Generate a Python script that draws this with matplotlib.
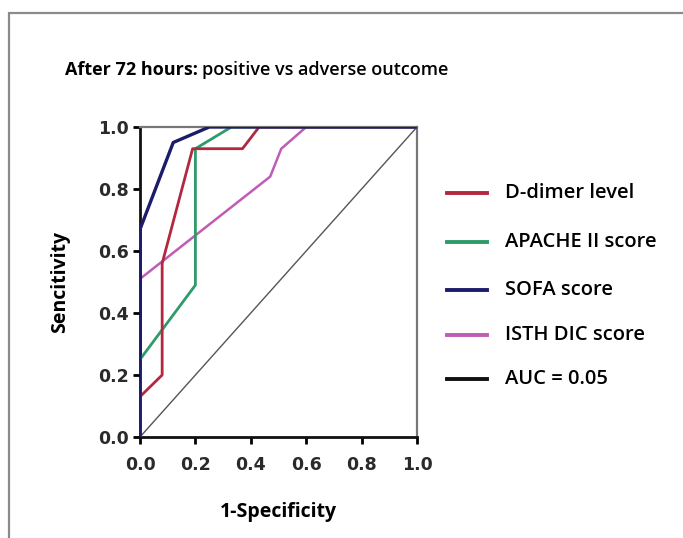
import matplotlib
matplotlib.use('Agg')
import matplotlib.pyplot as plt
from matplotlib.patches import Rectangle

# ROC curves (1-specificity, sensitivity)
ddimer_x = [0.0, 0.0, 0.08, 0.08, 0.19, 0.37, 0.43, 1.0]
ddimer_y = [0.0, 0.13, 0.20, 0.56, 0.93, 0.93, 1.0, 1.0]
apache_x = [0.0, 0.0, 0.20, 0.20, 0.33, 1.0]
apache_y = [0.0, 0.25, 0.49, 0.93, 1.0, 1.0]
sofa_x = [0.0, 0.0, 0.12, 0.25, 1.0]
sofa_y = [0.0, 0.67, 0.95, 1.0, 1.0]
isth_x = [0.0, 0.0, 0.47, 0.51, 0.60, 1.0]
isth_y = [0.0, 0.51, 0.84, 0.93, 1.0, 1.0]
ref_x = [0.0, 1.0]
ref_y = [0.0, 1.0]

labels = ['D-dimer level', 'APACHE II score', 'SOFA score', 'ISTH DIC score', 'AUC = 0.05']
colors = ['#b2283f', '#2f9a6a', '#1c1c6b', '#c05cb6', '#111111']
ticks = [0.0, 0.2, 0.4, 0.6, 0.8, 1.0]
tick_labels = ['0.0', '0.2', '0.4', '0.6', '0.8', '1.0']

txt_font = ['Open Sans', 'DejaVu Sans']
num_font = ['DejaVu Sans']

fig = plt.figure(figsize=(6.83, 5.38), dpi=100)
fig.patch.set_facecolor('white')

# outer grey frame (only top and left visible in the crop)
fig.patches.append(Rectangle((9 / 683, -0.2), 1.2, 0.2 + 1 - 13 / 538,
                             transform=fig.transFigure, fill=False,
                             edgecolor='#8a8a8a', linewidth=1.6))

ax = fig.add_axes([140 / 683, 1 - 437 / 538, 277 / 683, 310 / 538])

ax.plot(ref_x, ref_y, color='#555555', linewidth=1.0, zorder=1)
ax.plot(isth_x, isth_y, color=colors[3], linewidth=1.8, zorder=2)
ax.plot(apache_x, apache_y, color=colors[1], linewidth=2.0, zorder=3)
ax.plot(ddimer_x, ddimer_y, color=colors[0], linewidth=2.0, zorder=4)
ax.plot(sofa_x, sofa_y, color=colors[2], linewidth=2.4, zorder=5)

ax.set_xlim(0, 1)
ax.set_ylim(0, 1)
ax.set_xticks(ticks)
ax.set_yticks(ticks)
ax.set_xticklabels(tick_labels, family=num_font, fontsize=12.5, fontweight='bold', color='#2a2a2a')
ax.set_yticklabels(tick_labels, family=num_font, fontsize=12.5, fontweight='bold', color='#2a2a2a')
ax.tick_params(direction='out', length=5, width=2)
ax.tick_params(axis='x', pad=9)
ax.tick_params(axis='y', pad=3)

for side in ['left', 'bottom']:
    ax.spines[side].set_linewidth(2)
    ax.spines[side].set_color('#111111')
for side in ['right', 'top']:
    ax.spines[side].set_linewidth(1.6)
    ax.spines[side].set_color('#777777')
for sp in ax.spines.values():
    sp.set_clip_on(False)

ax.set_xlabel('1-Specificity', family=txt_font, fontsize=14, fontweight='bold', labelpad=20)
ax.set_ylabel('Sencitivity', family=txt_font, fontsize=14, fontweight='bold', labelpad=20)

# title: bold lead-in, then regular
t1 = fig.text(65 / 683, 1 - 70 / 538, 'After 72 hours:', family=txt_font, fontsize=13,
              fontweight='bold', va='center', ha='left')
fig.canvas.draw()
bb = t1.get_window_extent()
fig.text(bb.x1 / 683 + 4 / 683, 1 - 70 / 538, 'positive vs adverse outcome', family=txt_font,
         fontsize=13, fontweight='semibold', va='center', ha='left')

# legend drawn by hand to match spacing
leg_y = [193, 242, 290, 335, 379]
for lab, col, yy in zip(labels, colors, leg_y):
    fy = 1 - yy / 538
    fig.add_artist(plt.Line2D([447 / 683, 487 / 683], [fy, fy], color=col, linewidth=2.8,
                              transform=fig.transFigure))
    fig.text(505 / 683, fy, lab, family=txt_font, fontsize=14.5, fontweight='semibold',
             va='center', ha='left')

fig.savefig('out.png', dpi=100)
